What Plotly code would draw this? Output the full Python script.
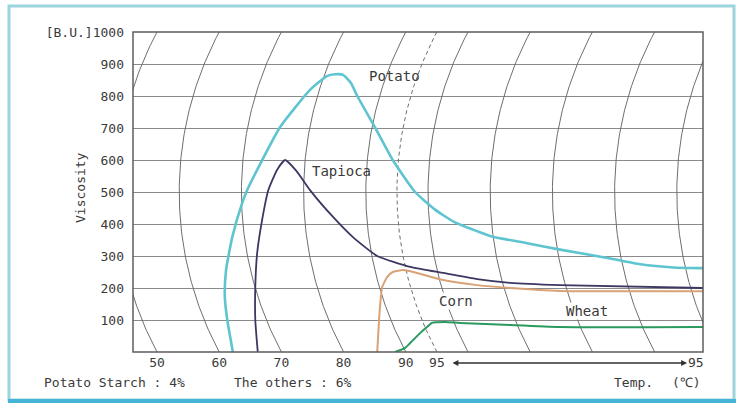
import numpy as np
import plotly.graph_objects as go

# ---------------- data ----------------
# x is the chart's horizontal position in temperature units (50..95 heating, then holding time)
POTATO_X = [62.2, 61.3, 60.9, 61.1, 62.1, 63.7, 64.5, 66.1, 69.8, 74.6, 77.3, 78.6, 79.9, 81.2,
            82.2, 85.1, 87.9, 91.5, 94.7, 97.9, 101.8, 104.0, 109.5, 114.8, 122.4, 127.7, 133.0, 137.8]
POTATO_Y = [0, 100, 172, 256, 359, 466, 506, 569, 703, 819, 862, 868, 866, 840,
            800, 700, 600, 500, 445, 405, 375, 360, 340, 320, 294, 274, 264, 262]

TAPIOCA_X = [66.2, 65.8, 65.8, 66.1, 66.9, 67.9, 69.3, 70.6, 72.4, 74.6, 78.3, 81.5, 85.4,
             90.7, 96.0, 101.5, 106.8, 114.8, 137.8]
TAPIOCA_Y = [0, 100, 203, 309, 413, 506, 569, 600, 566, 506, 422, 359, 300,
             266, 247, 228, 216, 209, 200]

CORN_X = [85.4, 85.7, 85.9, 86.2, 87.0, 87.9, 89.6, 91.2, 96.0, 101.5, 106.8, 114.8, 137.8]
CORN_Y = [0, 100, 153, 203, 234, 250, 256, 250, 225, 209, 200, 191, 190]

WHEAT_X = [88.3, 89.9, 90.7, 92.3, 93.4, 94.2, 96.3, 98.7, 106.8, 114.8, 137.8]
WHEAT_Y = [0, 13, 28, 59, 78, 91, 94, 91, 84, 78, 78]

X_TICKS = [50, 60, 70, 80, 90, 95]
X_TICK_TEXT = ["50", "60", "70", "80", "90", "95"]
Y_TICKS = [100, 200, 300, 400, 500, 600, 700, 800, 900, 1000]
Y_TICK_TEXT = ["100", "200", "300", "400", "500", "600", "700", "800", "900", "[B.U.]1000"]

ARC_BASES = [50, 60, 70, 80, 90, 100, 110, 120, 130, 140]   # solid chart-paper arcs
ARC_DASHED = [95]                                           # end of heating

# ---------------- layout geometry ----------------
W, H = 742, 406
ML, MR, MT, MB = 133, 39, 32, 54
PW, PH = W - ML - MR, H - MT - MB
X_MIN, X_MAX = 46.14, 137.78
Y_MIN, Y_MAX = 0, 1000
PX_PER_X = PW / (X_MAX - X_MIN)
ARC_R = 340.0  # px, radius of recorder pen arc

def px_to_x(px):
    return X_MIN + (px - ML) / PX_PER_X

def py_to_paper(py):
    return (H - MB - py) / PH

def arc(xb):
    ys = np.linspace(Y_MIN, Y_MAX, 121)
    dy = (ys - (Y_MIN + Y_MAX) / 2) * PH / (Y_MAX - Y_MIN)
    off = np.sqrt(ARC_R ** 2 - dy ** 2) - np.sqrt(ARC_R ** 2 - (PH / 2) ** 2)
    return xb - off / PX_PER_X, ys

fig = go.Figure()
for xb in ARC_BASES:
    ax_, ay_ = arc(xb)
    fig.add_trace(go.Scatter(x=ax_, y=ay_, mode="lines", line=dict(color="#6e6e6e", width=1),
                             hoverinfo="skip"))
for xb in ARC_DASHED:
    ax_, ay_ = arc(xb)
    fig.add_trace(go.Scatter(x=ax_, y=ay_, mode="lines",
                             line=dict(color="#6e6e6e", width=1, dash="4px,3px"),
                             hoverinfo="skip"))

def curve(xs, ys, color, width):
    fig.add_trace(go.Scatter(x=xs, y=ys, mode="lines",
                             line=dict(color=color, width=width, shape="spline", smoothing=0.5)))

curve(CORN_X, CORN_Y, "#d9a276", 2)
curve(WHEAT_X, WHEAT_Y, "#2a9a5e", 2)
curve(TAPIOCA_X, TAPIOCA_Y, "#3b3862", 1.8)
curve(POTATO_X, POTATO_Y, "#5ec4d0", 2.6)

MONO = "DejaVu Sans Mono"
TXT = "#3a3a3a"

def label(text, px, py, bg=None):
    fig.add_annotation(x=px_to_x(px), y=(H - MB - py) / PH * (Y_MAX - Y_MIN), text=text,
                       showarrow=False, font=dict(family=MONO, size=14, color=TXT),
                       bgcolor=bg, borderpad=0)

label("Potato", 394, 76)
label("Tapioca", 341, 171)
label("Corn", 456, 301, "white")
label("Wheat", 587, 311, "white")

def ptext(text, px, py, xanchor="left", size=13, angle=0):
    fig.add_annotation(xref="paper", yref="paper", x=(px - ML) / PW, y=py_to_paper(py),
                       text=text, showarrow=False, xanchor=xanchor, yanchor="middle",
                       textangle=angle, font=dict(family=MONO, size=size, color=TXT))

ptext("Potato Starch : 4%", 42, 382)
ptext("The others : 6%", 232, 382)
ptext("Temp.", 612, 382)
ptext("(℃)", 670, 382)
ptext("95", 706, 362, xanchor="right")
ptext("Viscosity", 80, 188, xanchor="center", angle=-90)

# double-headed temperature-hold arrow
fig.add_annotation(xref="x", yref="paper", x=px_to_x(687), y=py_to_paper(363),
                   ax=-(687 - 451), ay=0, axref="pixel", ayref="pixel", text="",
                   showarrow=True, arrowhead=2, startarrowhead=2, arrowside="end+start",
                   arrowsize=0.9, arrowwidth=1.3, arrowcolor="#333")

# outer light-blue frame
fig.add_shape(type="rect", xref="paper", yref="paper",
              x0=(9 - ML) / PW, x1=(734 - ML) / PW, y0=py_to_paper(400), y1=py_to_paper(6),
              line=dict(color="#9ad5dd", width=3), layer="below")
fig.add_shape(type="line", xref="paper", yref="paper",
              x0=(8 - ML) / PW, x1=(736 - ML) / PW, y0=py_to_paper(401), y1=py_to_paper(401),
              line=dict(color="#45b4d6", width=4))
# plot frame
fig.add_shape(type="rect", xref="paper", yref="paper", x0=0, x1=1, y0=0, y1=1,
              line=dict(color="#5e5e5e", width=1.5))

fig.update_xaxes(range=[X_MIN, X_MAX], tickvals=X_TICKS, ticktext=X_TICK_TEXT,
                 showgrid=False, zeroline=False, showline=False, ticks="",
                 ticklabelstandoff=1,
                 tickfont=dict(family=MONO, size=13, color=TXT))
fig.update_yaxes(range=[Y_MIN, Y_MAX], tickvals=Y_TICKS, ticktext=Y_TICK_TEXT,
                 showgrid=True, gridcolor="#8a8a8a", gridwidth=1.2, zeroline=False,
                 showline=False, ticks="", ticklabelstandoff=8,
                 tickfont=dict(family=MONO, size=13, color=TXT))

fig.update_layout(width=W, height=H, margin=dict(l=ML, r=MR, t=MT, b=MB),
                  plot_bgcolor="white", paper_bgcolor="white", showlegend=False)

fig.write_html("out.html", config={"displayModeBar": False},
               post_script="document.body.style.margin='0';document.body.style.overflow='hidden';")
